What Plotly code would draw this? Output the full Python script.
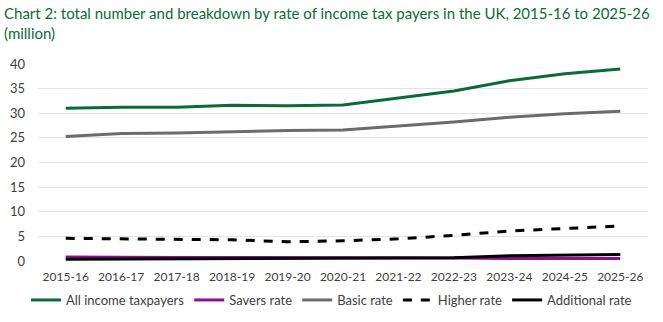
import plotly.graph_objects as go

years = ["2015-16", "2016-17", "2017-18", "2018-19", "2019-20", "2020-21",
         "2021-22", "2022-23", "2023-24", "2024-25", "2025-26"]
all_taxpayers = [31.0, 31.2, 31.2, 31.6, 31.5, 31.7, 33.1, 34.5, 36.6, 38.0, 39.0]
savers_rate = [0.8, 0.7, 0.7, 0.7, 0.7, 0.7, 0.6, 0.6, 0.5, 0.5, 0.5]
basic_rate = [25.3, 25.9, 26.0, 26.3, 26.5, 26.6, 27.4, 28.2, 29.2, 29.9, 30.4]
higher_rate = [4.6, 4.5, 4.3, 4.3, 3.9, 4.1, 4.5, 5.2, 6.1, 6.6, 7.1]
additional_rate = [0.35, 0.4, 0.4, 0.45, 0.5, 0.5, 0.55, 0.65, 1.05, 1.2, 1.3]

title_lines = ["Chart 2: total number and breakdown by rate of income tax payers in the UK, 2015-16 to 2025-26",
               "(million)"]

series = [
    ("All income taxpayers", all_taxpayers, "#0b6b36", "solid"),
    ("Savers rate", savers_rate, "#8e0f8e", "solid"),
    ("Basic rate", basic_rate, "#6b6b6b", "solid"),
    ("Higher rate", higher_rate, "#000000", "dash"),
    ("Additional rate", additional_rate, "#000000", "solid"),
]

fig = go.Figure()
for name, vals, col, dash in series:
    fig.add_trace(go.Scatter(x=years, y=vals, name=name, mode="lines",
                             line=dict(color=col, width=3, dash=dash)))

W, H = 663, 322
L, R, T, B = 38, 15, 64, 61
ph = H - T - B
pw = W - L - R

for i, (txt, ypx) in enumerate(zip(title_lines, [13, 33])):
    fig.add_annotation(text=txt, xref="paper", yref="paper",
                       x=(2 - L) / pw, xanchor="left",
                       y=1 + (T - ypx) / ph, yanchor="middle",
                       showarrow=False,
                       font=dict(family="Lato", size=15, color="#0b6b36"))

fig.update_layout(
    width=W, height=H,
    margin=dict(l=L, r=R, t=T, b=B, autoexpand=False),
    paper_bgcolor="white", plot_bgcolor="white",
    font=dict(family="Lato", size=12, color="#404040"),
    xaxis=dict(type="category", range=[-0.5, 10.5], showgrid=False,
               showline=False, ticks="", ticklabelstandoff=7,
               tickfont=dict(size=12)),
    yaxis=dict(range=[0, 40], dtick=5, showgrid=True, gridcolor="#e3e3e3",
               gridwidth=1, zeroline=False, showline=False, ticks="",
               ticklabelstandoff=12, tickfont=dict(size=13)),
    legend=dict(orientation="h", x=0.5, xanchor="center", xref="container",
                y=22 / H, yanchor="middle", yref="container",
                font=dict(size=13), itemwidth=30, tracegroupgap=0),
    showlegend=True,
)

fig.write_html("out.html")
